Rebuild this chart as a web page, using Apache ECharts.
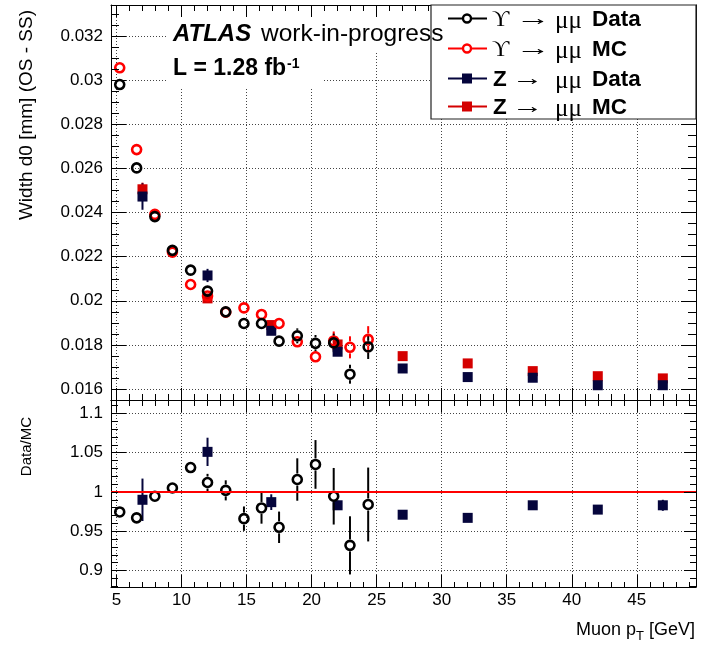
<!DOCTYPE html>
<html>
<head>
<meta charset="utf-8">
<script src="https://cdn.jsdelivr.net/npm/echarts@6/dist/echarts.min.js"></script>
<style>
  html, body { margin: 0; padding: 0; background: #fff; }
  #chart { width: 705px; height: 649px; }
</style>
</head>
<body>
<div id="chart"></div>
<script>
// ---- Upsilon -> mu mu : data and simulation, width of d0 (OS - SS) vs muon pT ----
const upsPt       = [5.25, 6.55, 7.95, 9.3, 10.7, 12.0, 13.4, 14.8, 16.15, 17.5, 18.9, 20.3, 21.7, 22.95, 24.35];
const upsData     = [0.02981, 0.02603, 0.02382, 0.02229, 0.02139, 0.02044, 0.0195, 0.01897, 0.01897, 0.01817, 0.01841, 0.01807, 0.01809, 0.01667, 0.01791];
const upsDataErr  = [0.0001, 0.0001, 0.0001, 0.0001, 0.0001, 0.00012, 0.00012, 0.00015, 0.00018, 0.0002, 0.00034, 0.00038, 0.00042, 0.00043, 0.00055];
const upsMc       = [0.03057, 0.02686, 0.02392, 0.02221, 0.02074, 0.02022, 0.01948, 0.01968, 0.01938, 0.01897, 0.01814, 0.01746, 0.01818, 0.01789, 0.01825];
const upsMcErr    = [0.0001, 0.0001, 0.0001, 0.0001, 0.0001, 0.00012, 0.00012, 0.00015, 0.0002, 0.0002, 0.00025, 0.00025, 0.00043, 0.0005, 0.0006];
const upsRatio    = [0.9745, 0.967, 0.9945, 1.005, 1.031, 1.012, 1.002, 0.966, 0.9796, 0.955, 1.0158, 1.035, 0.9945, 0.932, 0.984];
const upsRatioErr = [0.003, 0.004, 0.004, 0.005, 0.006, 0.011, 0.0128, 0.0155, 0.020, 0.020, 0.027, 0.031, 0.036, 0.037, 0.047];

// ---- Z -> mu mu : data and simulation ----
const zPt       = [7.0, 12.0, 16.9, 22.0, 27.0, 32.0, 37.0, 42.0, 47.0];
const zData     = [0.02473, 0.02115, 0.01864, 0.01769, 0.01693, 0.01654, 0.01651, 0.01617, 0.01617];
const zDataErr  = [0.0006, 0.0003, 0.00012, 0.0001, 0.00008, 0.00008, 0.00008, 0.00008, 0.0001];
const zMc       = [0.02506, 0.02011, 0.0189, 0.01802, 0.01749, 0.01716, 0.01681, 0.01658, 0.01648];
const zMcErr    = [0.0003, 0.0002, 0.0001, 0.0001, 0.00005, 0.00005, 0.00005, 0.00005, 0.00006];
const zRatio    = [0.990, 1.051, 0.987, 0.983, 0.971, 0.967, 0.983, 0.9775, 0.983];
const zRatioErr = [0.027, 0.018, 0.010, 0.006, 0.004, 0.004, 0.004, 0.004, 0.007];

// ---- axis ticks ----
const ptTicks    = [5, 10, 15, 20, 25, 30, 35, 40, 45];
const widthTicks = [0.016, 0.018, 0.02, 0.022, 0.024, 0.026, 0.028, 0.03, 0.032];
const ratioTicks = [0.9, 0.95, 1, 1.05, 1.1];

const PT_MIN = 4.58, PT_MAX = 49.55;
const W_MIN = 0.0155, W_MAX = 0.03342;
const R_MIN = 0.879, R_MAX = 1.117;

function steps(from, to, step) {
  const out = [];
  for (let v = from; v <= to + step / 2; v += step) out.push(Math.round(v * 1e6) / 1e6);
  return out;
}
const ptMinor    = steps(5, 49, 1);
const widthMinor = steps(0.016, 0.033, 0.0005);
const ratioMinor = steps(0.88, 1.11, 0.01);

const FONT = "'Liberation Sans', Arial, Helvetica, sans-serif";
const SERIF = "'Liberation Serif', 'DejaVu Serif', 'Times New Roman', serif";
const NAVY = '#05053c';
const ZRED = '#d40000';

const gridLine = { show: true, lineStyle: { color: '#444', width: 1, type: [1, 2] } };
const frameLine = { show: true, onZero: false, lineStyle: { color: '#000', width: 1 } };

// one axis of the frame: either the major-tick axis or a minor-tick companion
function makeAxis(opt) {
  return {
    type: 'value',
    gridIndex: opt.grid,
    position: opt.position,
    min: opt.min,
    max: opt.max,
    z: opt.z == null ? 0 : opt.z,
    axisLine: opt.line ? frameLine : { show: false },
    axisTick: { show: true, inside: true, length: opt.tickLen, customValues: opt.ticks,
                lineStyle: { color: '#000', width: 1 } },
    axisLabel: opt.labels
      ? Object.assign({ show: true, customValues: opt.ticks, color: '#000', fontFamily: FONT,
                        fontSize: 17 }, opt.labels)
      : { show: false },
    splitLine: opt.split ? gridLine : { show: false },
    splitArea: { show: false }
  };
}

const xAxes = [
  // upper pad
  makeAxis({ grid: 0, position: 'bottom', min: PT_MIN, max: PT_MAX, ticks: ptTicks, tickLen: 12, line: true, split: true }),
  makeAxis({ grid: 0, position: 'bottom', min: PT_MIN, max: PT_MAX, ticks: ptMinor, tickLen: 6, z: 5 }),
  makeAxis({ grid: 0, position: 'top', min: PT_MIN, max: PT_MAX, ticks: ptTicks, tickLen: 12, line: true, z: 5 }),
  makeAxis({ grid: 0, position: 'top', min: PT_MIN, max: PT_MAX, ticks: ptMinor, tickLen: 6, z: 5 }),
  // ratio pad
  makeAxis({ grid: 1, position: 'bottom', min: PT_MIN, max: PT_MAX, ticks: ptTicks, tickLen: 12, line: true, split: true,
             labels: { margin: 5, fontSize: 17 } }),
  makeAxis({ grid: 1, position: 'bottom', min: PT_MIN, max: PT_MAX, ticks: ptMinor, tickLen: 5, z: 5 }),
  makeAxis({ grid: 1, position: 'top', min: PT_MIN, max: PT_MAX, ticks: ptTicks, tickLen: 12, line: true, z: 5 }),
  makeAxis({ grid: 1, position: 'top', min: PT_MIN, max: PT_MAX, ticks: ptMinor, tickLen: 6, z: 5 })
];

const yAxes = [
  // upper pad
  makeAxis({ grid: 0, position: 'left', min: W_MIN, max: W_MAX, ticks: widthTicks, tickLen: 15, line: true, split: true,
             labels: { margin: 8 } }),
  makeAxis({ grid: 0, position: 'left', min: W_MIN, max: W_MAX, ticks: widthMinor, tickLen: 8, z: 5 }),
  makeAxis({ grid: 0, position: 'right', min: W_MIN, max: W_MAX, ticks: widthTicks, tickLen: 15, line: true, z: 5 }),
  makeAxis({ grid: 0, position: 'right', min: W_MIN, max: W_MAX, ticks: widthMinor, tickLen: 8, z: 5 }),
  // ratio pad
  makeAxis({ grid: 1, position: 'left', min: R_MIN, max: R_MAX, ticks: ratioTicks, tickLen: 15, line: true, split: true,
             labels: { margin: 8 } }),
  makeAxis({ grid: 1, position: 'left', min: R_MIN, max: R_MAX, ticks: ratioMinor, tickLen: 7, z: 5 }),
  makeAxis({ grid: 1, position: 'right', min: R_MIN, max: R_MAX, ticks: ratioTicks, tickLen: 12, line: true, z: 5 }),
  makeAxis({ grid: 1, position: 'right', min: R_MIN, max: R_MAX, ticks: ratioMinor, tickLen: 6, z: 5 })
];

// vertical error bars; `gap` leaves the inside of hollow markers clear
function errorBars(gap) {
  return function (params, api) {
    const x = api.value(0), y = api.value(1), e = api.value(2);
    const c = api.coord([x, y]);
    const hi = api.coord([x, y + e]);
    const lo = api.coord([x, y - e]);
    const style = { stroke: api.visual('color'), lineWidth: 2 };
    const parts = [];
    if (c[1] - hi[1] > gap) parts.push({ type: 'line', shape: { x1: c[0], y1: hi[1], x2: c[0], y2: c[1] - gap }, style });
    if (lo[1] - c[1] > gap) parts.push({ type: 'line', shape: { x1: c[0], y1: c[1] + gap, x2: c[0], y2: lo[1] }, style });
    return { type: 'group', children: parts };
  };
}

const zip = (xs, ys) => xs.map((x, i) => [x, ys[i]]);
const zip3 = (xs, ys, es) => xs.map((x, i) => [x, ys[i], es[i]]);

function pointSeries(name, grid, xs, ys, es, color, hollow) {
  const xi = grid === 0 ? 0 : 4, yi = grid === 0 ? 0 : 4;
  return [
    {
      name: name + ' err', type: 'custom', xAxisIndex: xi, yAxisIndex: yi,
      itemStyle: { color }, clip: true,
      renderItem: errorBars(hollow ? 6 : 0),
      data: zip3(xs, ys, es), silent: true
    },
    {
      name, type: 'scatter', xAxisIndex: xi, yAxisIndex: yi,
      symbol: hollow ? 'circle' : 'rect',
      symbolSize: hollow ? 9 : 10,
      itemStyle: hollow
        ? { color: 'rgba(0,0,0,0)', borderColor: color, borderWidth: 2.6, opacity: 1 }
        : { color, opacity: 1 },
      data: zip(xs, ys), silent: true
    }
  ];
}

const series = [].concat(
  pointSeries('Z MC', 0, zPt, zMc, zMcErr, ZRED, false),
  pointSeries('Z Data', 0, zPt, zData, zDataErr, NAVY, false),
  pointSeries('Upsilon MC', 0, upsPt, upsMc, upsMcErr, '#ff0000', true),
  pointSeries('Upsilon Data', 0, upsPt, upsData, upsDataErr, '#000000', true),
  pointSeries('Z Data/MC', 1, zPt, zRatio, zRatioErr, NAVY, false),
  pointSeries('Upsilon Data/MC', 1, upsPt, upsRatio, upsRatioErr, '#000000', true)
);
// unity reference line in the ratio pad
series[series.length - 3].markLine = {
  silent: true, symbol: 'none', label: { show: false }, animation: false,
  lineStyle: { color: '#ff0000', width: 2, type: 'solid' },
  data: [{ yAxis: 1 }]
};
series[series.length - 3].z = 1;
series[series.length - 4].z = 1;

// ---- text and legend ----
const ctx = document.createElement('canvas').getContext('2d');
function textWidth(font, s) { ctx.font = font; return ctx.measureText(s).width; }

const graphics = [];
// background panels behind the labels
graphics.push({ type: 'rect', z: 1, shape: { x: 167, y: 5, width: 264, height: 48 }, style: { fill: '#fff' } });
graphics.push({ type: 'rect', z: 1, shape: { x: 167, y: 53, width: 155, height: 35 }, style: { fill: '#fff' } });

// legend box
graphics.push({ type: 'rect', z: 6, shape: { x: 431, y: 5, width: 265, height: 114 },
  style: { fill: '#fff', stroke: '#222', lineWidth: 1.2 } });

const atlasFont = 'italic bold 24px ' + FONT;
const atlasW = textWidth(atlasFont, 'ATLAS');
graphics.push({ type: 'text', z: 10, x: 173, y: 34,
  style: { text: 'ATLAS', fill: '#000', fontFamily: FONT, fontSize: 24, fontWeight: 'bold', fontStyle: 'italic', verticalAlign: 'middle' } });
graphics.push({ type: 'text', z: 10, x: Math.max(261, 173 + atlasW + 8), y: 34,
  style: { text: 'work-in-progress', fill: '#000', fontFamily: FONT, fontSize: 24.5, verticalAlign: 'middle' } });
const lumiFont = 'bold 23px ' + FONT;
const lumiW = textWidth(lumiFont, 'L = 1.28 fb');
graphics.push({ type: 'text', z: 10, x: 173, y: 69,
  style: { text: 'L = 1.28 fb', fill: '#000', fontFamily: FONT, fontSize: 23, fontWeight: 'bold', verticalAlign: 'middle' } });
graphics.push({ type: 'text', z: 10, x: 173 + lumiW + 1, y: 64,
  style: { text: '-1', fill: '#000', fontFamily: FONT, fontSize: 14, fontWeight: 'bold', verticalAlign: 'middle' } });

const legendRows = [
  { y: 18.5, marker: 'circle', color: '#000000', head: 'ϒ', arrowX: 516, tail: 'Data' },
  { y: 48.5, marker: 'circle', color: '#ff0000', head: 'ϒ', arrowX: 516, tail: 'MC' },
  { y: 78.5, marker: 'square', color: NAVY, head: 'Z', arrowX: 512, tail: 'Data' },
  { y: 106.5, marker: 'square', color: ZRED, head: 'Z', arrowX: 512, tail: 'MC' }
];
legendRows.forEach(r => {
  graphics.push({ type: 'line', z: 7, shape: { x1: 448, y1: r.y, x2: 487, y2: r.y }, style: { stroke: r.color, lineWidth: 2 } });
  if (r.marker === 'circle') {
    graphics.push({ type: 'circle', z: 8, shape: { cx: 467, cy: r.y, r: 4 }, style: { fill: '#fff', stroke: r.color, lineWidth: 2.4 } });
  } else {
    graphics.push({ type: 'rect', z: 8, shape: { x: 462, y: r.y - 5, width: 10, height: 10 }, style: { fill: r.color } });
  }
  if (r.head === 'Z') {
    graphics.push({ type: 'text', z: 9, x: 493, y: r.y + 1,
      style: { text: 'Z', fill: '#000', fontFamily: FONT, fontSize: 22.5, fontWeight: 'bold', verticalAlign: 'middle' } });
  } else {
    graphics.push({ type: 'text', z: 9, x: 492, y: r.y + 1,
      style: { text: r.head, fill: '#000', fontFamily: SERIF, fontSize: 24, verticalAlign: 'middle' } });
  }
  // long thin arrow, stretched horizontally
  graphics.push({ type: 'text', z: 9, x: r.arrowX, y: r.y + 1, scaleX: r.head === 'Z' ? 1.5 : 1.65, scaleY: 1,
    style: { text: '→', fill: '#000', fontFamily: SERIF, fontSize: 21, verticalAlign: 'middle' } });
  graphics.push({ type: 'text', z: 9, x: 555, y: r.y + 3,
    style: { text: 'μμ', fill: '#000', fontFamily: SERIF, fontSize: 25, verticalAlign: 'middle' } });
  graphics.push({ type: 'text', z: 9, x: 592, y: r.y + 1,
    style: { text: r.tail, fill: '#000', fontFamily: FONT, fontSize: 22.5, fontWeight: 'bold', verticalAlign: 'middle' } });
});

// axis titles
graphics.push({ type: 'text', z: 10, x: 27, y: 10, rotation: Math.PI / 2,
  style: { text: 'Width d0 [mm] (OS - SS)', fill: '#000', fontFamily: FONT, fontSize: 19, align: 'right', verticalAlign: 'middle' } });
graphics.push({ type: 'text', z: 10, x: 27, y: 417, rotation: Math.PI / 2,
  style: { text: 'Data/MC', fill: '#000', fontFamily: FONT, fontSize: 15, align: 'right', verticalAlign: 'middle' } });
const tf = '18px ' + FONT, sf = '13px ' + FONT;
const w1 = textWidth(tf, 'Muon p'), w2 = textWidth(sf, 'T'), w3 = textWidth(tf, ' [GeV]');
const x0 = 695 - (w1 + w2 + w3);
graphics.push({ type: 'text', z: 10, x: x0, y: 630,
  style: { text: 'Muon p', fill: '#000', fontFamily: FONT, fontSize: 18, verticalAlign: 'middle' } });
graphics.push({ type: 'text', z: 10, x: x0 + w1, y: 636,
  style: { text: 'T', fill: '#000', fontFamily: FONT, fontSize: 13, verticalAlign: 'middle' } });
graphics.push({ type: 'text', z: 10, x: x0 + w1 + w2, y: 630,
  style: { text: ' [GeV]', fill: '#000', fontFamily: FONT, fontSize: 18, verticalAlign: 'middle' } });

const chart = echarts.init(document.getElementById('chart'), null, { renderer: 'canvas' });
chart.setOption({
  animation: false,
  backgroundColor: '#fff',
  textStyle: { fontFamily: FONT },
  grid: [
    { left: 111, right: 9, top: 5, height: 395 },
    { left: 111, right: 9, top: 400, height: 187 }
  ],
  xAxis: xAxes,
  yAxis: yAxes,
  series,
  graphic: { elements: graphics }
});
</script>
</body>
</html>
